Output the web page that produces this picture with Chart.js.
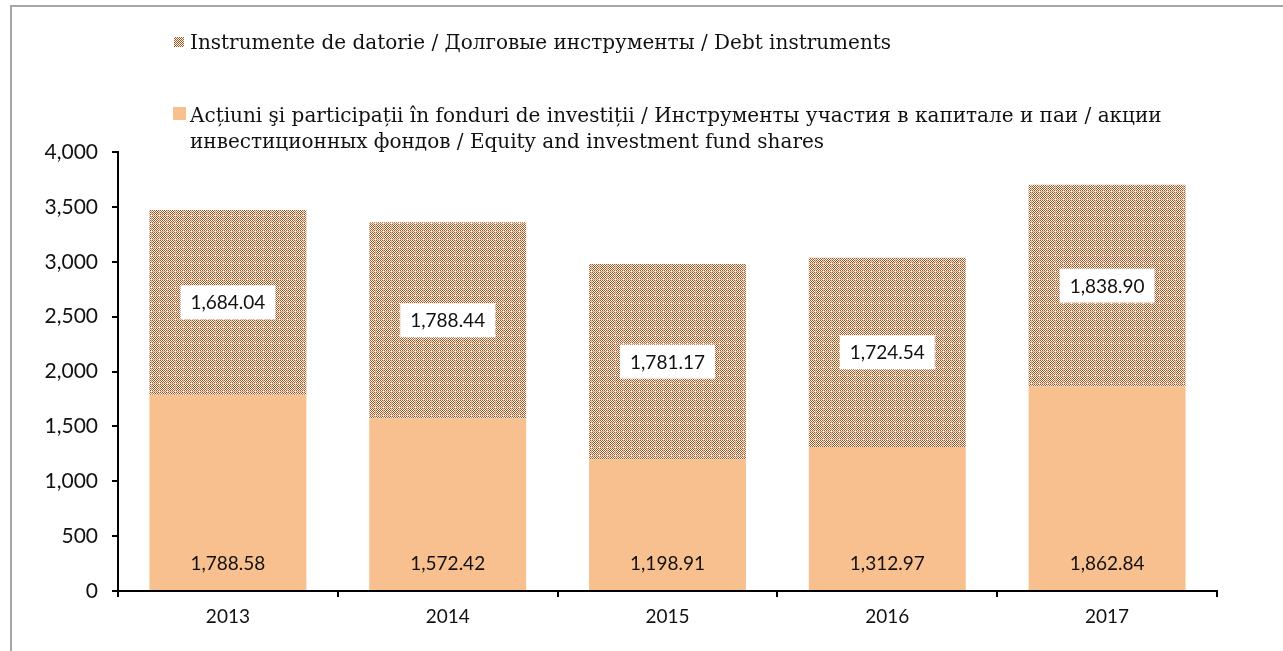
<!DOCTYPE html>
<html>
<head>
<meta charset="utf-8">
<script src="https://cdn.jsdelivr.net/npm/chart.js@4.4.1/dist/chart.umd.min.js"></script>
<style>
  html, body { margin: 0; padding: 0; background: #fff; }
  #wrap { position: relative; width: 1283px; height: 651px; overflow: hidden; }
  #frame { position: absolute; left: 10px; top: 5px; width: 1290px; height: 700px; border-left: 2px solid #a6a6a6; border-top: 2px solid #a6a6a6; box-sizing: border-box; }
  canvas { position: absolute; left: 0; top: 0; }
  .leg { position: absolute; left: 190px; font-family: "DejaVu Serif", serif; font-size: 20px; color: #111; line-height: 26px; white-space: nowrap; }
  .sw { position: absolute; }
  .pat { background: repeating-conic-gradient(#a4521a 0 25%, #fff 0 50%) 0 0/2px 2px; }
</style>
</head>
<body>
<div id="wrap">
  <div id="frame"></div>
  <canvas id="c" width="1283" height="651"></canvas>
  <div class="sw pat" style="left:174px;top:37px;width:10px;height:10px;"></div>
  <div class="leg" id="l1" style="top:29px;"></div>
  <div class="sw" style="left:173px;top:107px;width:13px;height:13px;background:#f9c08f;"></div>
  <div class="leg" id="l2" style="top:102px;"></div>
</div>
<script>
const categories = ["2013", "2014", "2015", "2016", "2017"];
const equityValues = [1788.58, 1572.42, 1198.91, 1312.97, 1862.84];
const debtValues = [1684.04, 1788.44, 1781.17, 1724.54, 1838.90];
const seriesNames = [
  "Instrumente de datorie / Долговые инструменты / Debt instruments",
  "Acțiuni şi participații în fonduri de investiții / Инструменты участия в капитале и паи / акции инвестиционных фондов / Equity and investment fund shares"
];
const yTicks = [0, 500, 1000, 1500, 2000, 2500, 3000, 3500, 4000];

document.getElementById('l1').textContent = seriesNames[0];
const l2 = document.getElementById('l2');
const cut = seriesNames[1].indexOf(" инвестиционных");
l2.appendChild(document.createTextNode(seriesNames[1].slice(0, cut)));
l2.appendChild(document.createElement('br'));
l2.appendChild(document.createTextNode(seriesNames[1].slice(cut + 1)));

function makePattern() {
  const p = document.createElement('canvas');
  p.width = 8; p.height = 8;
  const g = p.getContext('2d');
  for (let i = 0; i < 8; i++) {
    for (let j = 0; j < 8; j++) {
      let col = ((i + j) % 2 === 0) ? '#a4521a' : '#ffffff';
      if (i === 7 || j === 7) col = ((i + j) % 2 === 0) ? '#cf9468' : '#ecccb2';
      if (i === 7 && j === 7) col = '#ffffff';
      g.fillStyle = col;
      g.fillRect(i, j, 1, 1);
    }
  }
  return g.createPattern(p, 'repeat');
}
const ctx = document.getElementById('c').getContext('2d');
const pattern = makePattern();

const fmt = v => v.toLocaleString('en-US', { minimumFractionDigits: 2, maximumFractionDigits: 2 });
const NUMFONT = '19px Lato, "Open Sans", sans-serif';

const labelPlugin = {
  id: 'barLabels',
  afterDatasetsDraw(chart) {
    const c = chart.ctx;
    c.save();
    c.font = NUMFONT;
    c.textAlign = 'center';
    c.textBaseline = 'middle';
    chart.data.datasets.forEach((ds, di) => {
      const meta = chart.getDatasetMeta(di);
      meta.data.forEach((bar, i) => {
        const txt = fmt(ds.data[i]);
        if (ds.kind === 'debt') {
          const cy = (bar.y + bar.base) / 2;
          const w = c.measureText(txt).width + 20;
          const h = 34;
          c.fillStyle = '#fff';
          c.fillRect(bar.x - w / 2, cy - h / 2, w, h);
          c.fillStyle = '#111';
          c.fillText(txt, bar.x, cy + 1);
        } else {
          c.fillStyle = '#111';
          c.fillText(txt, bar.x, bar.base - 26);
        }
      });
    });
    c.restore();
  }
};

new Chart(ctx, {
  type: 'bar',
  data: {
    labels: categories,
    datasets: [
      { label: seriesNames[1], kind: 'equity', data: equityValues, backgroundColor: '#f9c08f',
        categoryPercentage: 1, barPercentage: 0.714 },
      { label: seriesNames[0], kind: 'debt', data: debtValues, backgroundColor: pattern,
        categoryPercentage: 1, barPercentage: 0.714 }
    ]
  },
  options: {
    responsive: false,
    animation: false,
    layout: { padding: { left: 0, top: 152, right: 66, bottom: 0 } },
    plugins: { legend: { display: false }, tooltip: { enabled: false } },
    scales: {
      x: {
        stacked: true,
        grid: { display: true, drawOnChartArea: false, drawTicks: true, tickLength: 6, color: '#000', lineWidth: 2, offset: true },
        border: { display: true, color: '#000', width: 2 },
        ticks: { color: '#111', font: { family: 'Lato, "Open Sans", sans-serif', size: 19 }, padding: 8 },
        afterFit(s) { s.height = 60; }
      },
      y: {
        stacked: true,
        min: 0, max: 4000,
        afterBuildTicks(s) { s.ticks = yTicks.map(v => ({ value: v })); },
        grid: { display: true, drawOnChartArea: false, drawTicks: true, tickLength: 6, color: '#000', lineWidth: 2 },
        border: { display: true, color: '#000', width: 2 },
        ticks: { color: '#111', font: { family: 'Lato, "Open Sans", sans-serif', size: 21 }, padding: 14,
          callback: v => v.toLocaleString('en-US') },
        afterFit(s) { s.width = 118; }
      }
    }
  },
  plugins: [labelPlugin]
});
</script>
</body>
</html>
